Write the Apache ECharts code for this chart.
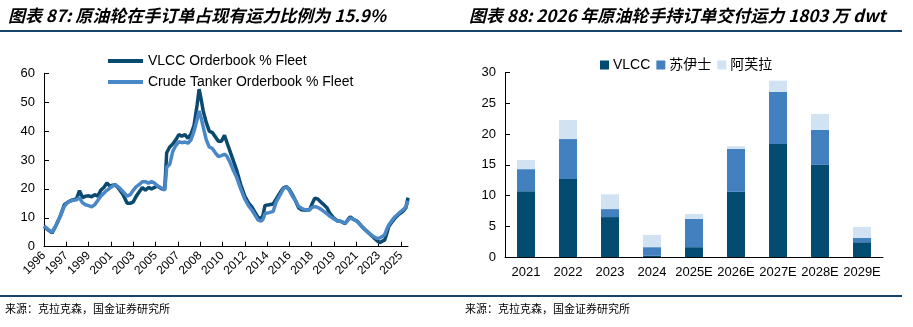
<!DOCTYPE html>
<html>
<head>
<meta charset="utf-8">
<script src="https://cdn.jsdelivr.net/npm/echarts@6/dist/echarts.min.js"></script>
<style>
html,body{margin:0;padding:0;background:#fff;}
#c{width:913px;height:327px;}
</style>
</head>
<body>
<div id="c"></div>
<script>
// ---------- Left chart data (month index from 1996-01, value %) ----------
const startYear = 1996;
const monthCount = 360;
const vlccPts = [
 [0,7.0],[4,5.8],[8,4.8],[12,7.5],[16,10.5],[20,14.5],[24,15.5],[28,16.2],[32,16.5],[35,19.4],
 [38,17.0],[41,17.5],[44,17.6],[47,17.3],[50,18.0],[53,17.5],[56,19.5],[59,20.5],[62,22.0],[65,21.0],
 [70,21.5],[74,20.0],[78,18.0],[82,15.0],[85,15.0],[88,15.5],[91,17.5],[94,19.0],[97,20.5],[100,19.5],
 [103,20.5],[106,20.0],[109,20.5],[112,21.0],[116,20.0],[119,19.8],[120,26.0],[121,32.5],[124,34.5],[127,35.5],
 [130,37.0],[133,38.8],[136,38.2],[139,38.8],[142,37.5],[145,39.0],[148,42.0],[151,49.0],[153,54.5],[155,51.0],
 [157,47.0],[160,43.0],[163,40.0],[166,39.5],[169,38.0],[172,36.5],[175,36.5],[178,38.5],[180,36.5],[183,33.5],
 [186,30.5],[190,26.5],[194,21.5],[198,17.5],[202,15.0],[205,13.8],[208,12.0],[211,10.2],[214,9.5],[216,11.0],
 [218,14.3],[222,14.5],[226,14.8],[229,16.5],[233,18.8],[236,20.3],[239,20.8],[242,19.8],[245,18.0],[248,16.0],
 [251,13.5],[254,12.8],[258,12.6],[262,12.8],[264,14.5],[267,16.8],[270,16.5],[273,15.5],[276,14.5],[279,13.5],
 [282,11.5],[285,10.2],[289,9.0],[293,8.7],[297,8.0],[300,9.5],[302,10.3],[305,9.5],[309,8.8],[313,7.2],
 [317,5.8],[321,4.5],[325,3.2],[328,2.2],[331,1.4],[334,2.0],[336,2.3],[338,4.5],[340,7.0],[343,8.5],
 [346,9.8],[350,11.2],[354,12.2],[357,13.5],[359,17.0]
];
const crudePts = [
 [0,7.2],[4,6.0],[8,5.0],[12,7.5],[16,10.5],[20,14.0],[24,15.5],[28,16.0],[32,16.2],[35,17.0],
 [38,15.2],[41,14.5],[44,14.2],[47,13.8],[50,14.5],[53,16.0],[56,17.5],[59,18.5],[62,19.5],[65,20.3],
 [70,21.5],[74,20.5],[78,19.0],[82,17.5],[85,18.0],[88,19.5],[91,20.8],[94,21.5],[97,22.5],[100,22.5],
 [103,22.0],[106,22.5],[109,22.0],[112,21.0],[116,20.3],[119,19.6],[120,23.0],[121,27.5],[124,28.5],[127,33.0],
 [130,35.0],[133,36.3],[136,36.0],[139,36.2],[142,35.8],[145,37.0],[148,40.0],[151,44.0],[153,47.0],[155,44.5],
 [157,41.5],[160,37.0],[163,34.5],[166,34.0],[169,32.5],[172,31.2],[175,31.5],[178,32.0],[180,31.5],[183,29.5],
 [186,27.0],[190,24.0],[194,20.0],[198,16.5],[202,14.0],[205,12.7],[208,11.0],[211,9.3],[214,8.8],[216,9.5],
 [218,11.5],[222,11.8],[226,12.2],[229,15.5],[233,18.0],[236,20.0],[239,20.8],[242,19.5],[245,17.5],[248,16.0],
 [251,14.0],[254,13.3],[258,12.7],[262,12.8],[264,13.5],[267,13.9],[270,13.6],[273,13.0],[276,12.2],[279,11.4],
 [282,10.5],[285,9.8],[289,9.0],[293,8.7],[297,8.2],[300,9.2],[302,10.0],[305,9.5],[309,8.7],[313,7.2],
 [317,5.8],[321,4.6],[325,3.5],[328,2.9],[331,3.0],[334,3.6],[336,4.2],[338,6.0],[340,7.5],[343,9.0],
 [346,10.3],[350,11.6],[354,12.7],[357,13.8],[359,15.9]
];

// ---------- Right chart data (million dwt) ----------
const barYears = ['2021','2022','2023','2024','2025E','2026E','2027E','2028E','2029E'];
const vlccBars   = [10.7, 12.7, 6.5, 0.2, 1.6, 10.6, 18.4, 15.0, 2.4];
const suezBars   = [3.6, 6.5, 1.3, 1.4, 4.6, 7.0, 8.5, 5.7, 0.7];
const aframaxBars= [1.5, 3.1, 2.4, 2.0, 0.8, 0.43, 1.8, 2.6, 1.8];

// categories (months) for the category axis
const monthCats = [];
for (let i = 0; i < monthCount; i++) {
  const y = startYear + Math.floor(i / 12);
  const m = (i % 12) + 1;
  monthCats.push(y + '-' + (m < 10 ? '0' + m : m));
}

const LAT = "'Liberation Sans', Arial, 'Noto Sans CJK SC', sans-serif";
const CJK = "'Noto Sans CJK SC', 'Liberation Sans', sans-serif";
const cV = '#0B4A6F', cC = '#4A87C6';
const bV = '#034B70', bS = '#4380C0', bA = '#D1E3F2';
const lineCol = '#17446A';

const chart = echarts.init(document.getElementById('c'), null, {renderer: 'canvas'});
chart.setOption({
  animation: false,
  backgroundColor: '#fff',
  graphic: [
    {type: 'text', left: 8, top: 7, style: {text: '图表 87: 原油轮在手订单占现有运力比例为 15.9%', font: "italic bold 17px " + CJK, fill: '#000'}},
    {type: 'text', left: 469, top: 7, style: {text: '图表 88: 2026 年原油轮手持订单交付运力 1803 万 dwt', font: "italic bold 17px " + CJK, fill: '#000'}},
    {type: 'line', shape: {x1: 0, y1: 31, x2: 902, y2: 31}, style: {stroke: lineCol, lineWidth: 2}},
    {type: 'line', shape: {x1: 0, y1: 296, x2: 902, y2: 296}, style: {stroke: lineCol, lineWidth: 2}},
    {type: 'text', left: 5, top: 303, style: {text: '来源：克拉克森，国金证券研究所', font: "11px " + CJK, fill: '#000'}},
    {type: 'text', left: 465, top: 303, style: {text: '来源：克拉克森，国金证券研究所', font: "11px " + CJK, fill: '#000'}}
  ],
  legend: [
    {
      left: 103, top: 49, orient: 'vertical', itemGap: 7,
      itemWidth: 35, itemHeight: 4, icon: 'rect',
      textStyle: {fontFamily: LAT, fontSize: 14, color: '#000'},
      data: ['VLCC Orderbook % Fleet', 'Crude Tanker Orderbook % Fleet']
    },
    {
      left: 595, top: 53, orient: 'horizontal', itemGap: 6,
      itemWidth: 9, itemHeight: 9, icon: 'rect',
      textStyle: {fontFamily: LAT, fontSize: 14, color: '#000', padding: [0,0,0,-1]},
      data: ['VLCC', '苏伊士', '阿芙拉']
    }
  ],
  grid: [
    {left: 44, right: 505, top: 73.3, bottom: 80.3, containLabel: false},
    {left: 505, right: 30, top: 72.7, bottom: 70, containLabel: false}
  ],
  xAxis: [
    {
      gridIndex: 0, type: 'category', boundaryGap: false, data: monthCats,
      axisLine: {lineStyle: {color: '#000', width: 1}},
      axisTick: {inside: true, length: 5, interval: 21, lineStyle: {color: '#000'}},
      axisLabel: {interval: 21, rotate: 45, margin: 7, fontFamily: LAT, fontSize: 12, color: '#000',
        formatter: v => v.slice(0, 4)},
      splitLine: {show: false}
    },
    {
      gridIndex: 1, type: 'category', boundaryGap: true, data: barYears,
      axisLine: {lineStyle: {color: '#000', width: 1}},
      axisTick: {inside: true, length: 5, lineStyle: {color: '#000'}},
      axisLabel: {interval: 0, margin: 9, fontFamily: LAT, fontSize: 13, color: '#000'}
    }
  ],
  yAxis: [
    {
      gridIndex: 0, type: 'value', min: 0, max: 60, interval: 10,
      axisLine: {show: true, lineStyle: {color: '#000', width: 1}},
      axisTick: {show: true, inside: true, length: 5, lineStyle: {color: '#000'}},
      axisLabel: {margin: 9, fontFamily: LAT, fontSize: 13, color: '#000'},
      splitLine: {show: false}
    },
    {
      gridIndex: 1, type: 'value', min: 0, max: 30, interval: 5,
      axisLine: {show: true, lineStyle: {color: '#000', width: 1}},
      axisTick: {show: true, inside: true, length: 5, lineStyle: {color: '#000'}},
      axisLabel: {margin: 9, fontFamily: LAT, fontSize: 13, color: '#000'},
      splitLine: {show: false}
    }
  ],
  series: [
    {name: 'VLCC Orderbook % Fleet', type: 'line', xAxisIndex: 0, yAxisIndex: 0, data: vlccPts,
     symbol: 'none', lineStyle: {color: cV, width: 3.5}, itemStyle: {color: cV}},
    {name: 'Crude Tanker Orderbook % Fleet', type: 'line', xAxisIndex: 0, yAxisIndex: 0, data: crudePts,
     symbol: 'none', lineStyle: {color: cC, width: 3.5}, itemStyle: {color: cC}},
    {name: 'VLCC', type: 'bar', xAxisIndex: 1, yAxisIndex: 1, stack: 'a', data: vlccBars,
     barWidth: 18, itemStyle: {color: bV}},
    {name: '苏伊士', type: 'bar', xAxisIndex: 1, yAxisIndex: 1, stack: 'a', data: suezBars,
     barWidth: 18, itemStyle: {color: bS}},
    {name: '阿芙拉', type: 'bar', xAxisIndex: 1, yAxisIndex: 1, stack: 'a', data: aframaxBars,
     barWidth: 18, itemStyle: {color: bA}}
  ]
});
</script>
</body>
</html>
